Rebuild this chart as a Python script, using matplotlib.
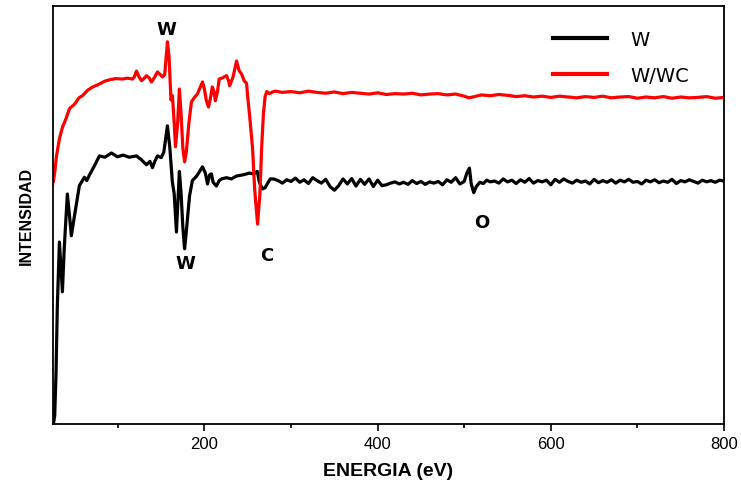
import matplotlib.pyplot as plt
from matplotlib.ticker import MultipleLocator

# W spectrum (black)
w_x = [25.5, 27, 28.5, 30, 32.4, 34, 35.9, 38, 41.6, 44, 46.2, 50, 55.5, 61.3, 64, 67,
       72.8, 78.6, 85, 92.5, 99.4, 106, 113, 121.4, 127, 133, 137, 139.9, 143, 145.7,
       150, 153, 157.2, 160, 162.8, 165, 167.6, 169, 171, 173, 175, 177, 179, 182.7,
       186, 191, 197.7, 201, 203.5, 206, 208, 210, 213.7, 217, 219.6, 225.4, 231, 237,
       245, 252, 257, 261, 263.4, 267, 270, 273, 276,
       280, 285, 290, 295, 300, 305, 310, 315, 320, 325, 330, 335, 340, 345, 350, 355,
       360, 365, 370, 375, 380, 385, 390, 395, 400, 405, 410, 415, 420, 425, 430, 435,
       440, 445, 450, 455, 460, 465, 470, 475, 480, 485, 490, 495, 500, 503, 506, 508,
       511, 514, 518, 522, 526, 530, 535, 540, 545, 550, 555, 560, 565, 570, 575, 580,
       585, 590, 595, 600, 605, 610, 615, 620, 625, 630, 635, 640, 645, 650, 655, 660,
       665, 670, 675, 680, 685, 690, 695, 700, 705, 710, 715, 720, 725, 730, 735, 740,
       745, 750, 755, 760, 765, 770, 775, 780, 785, 790, 795, 800]
w_y = [0, 2, 12, 28, 43.5, 38, 31.6, 42, 55, 50, 45, 50, 57, 59, 58.2, 59.5,
       61.7, 64.1, 63.8, 64.8, 63.9, 64.3, 63.8, 64.1, 63.2, 62.0, 62.8, 61.3, 63, 64.1,
       63.7, 65, 71.3, 66, 58, 55, 45.9, 52, 60.4, 55, 47, 41.9, 46, 54.5,
       58.2, 59.3, 61.5, 60, 57.4, 59.6, 59.8, 57.8, 56.9, 58.2, 58.6, 58.9, 58.6, 59.3,
       59.6, 60, 59.8, 60.4, 57.8, 56.2, 56.5, 57.6, 58.6,
       58.6, 58.2, 57.6, 58.4, 58.0, 58.8, 57.8, 58.4, 57.5, 58.9, 58.2, 57.6, 58.5, 56.8, 55.9, 57.0,
       58.6, 57.4, 58.7, 56.9, 58.5, 57.3, 58.6, 56.8, 58.3, 57.0, 57.2, 57.6, 57.9, 57.4, 57.8, 57.3,
       58.2, 57.5, 58.0, 57.3, 57.9, 57.6, 58.0, 57.2, 58.4, 57.8, 58.9, 57.4, 58.0, 60.0, 61.2, 57.5,
       55.3, 56.8, 57.8, 57.5, 58.3, 57.9, 58.1, 57.6, 58.6, 57.9, 58.3, 57.5, 58.4, 57.8, 58.7, 57.6,
       58.2, 57.9, 58.3, 57.2, 58.5, 57.8, 58.6, 58.0, 57.6, 58.3, 57.8, 58.1, 57.4, 58.5, 57.7, 58.2,
       57.8, 58.4, 57.6, 58.3, 57.9, 58.5, 57.8, 58.0, 57.4, 58.3, 57.9, 58.4, 57.7, 58.1, 57.8, 58.5,
       57.5, 58.2, 57.9, 58.4, 58.0, 57.6, 58.3, 57.9, 58.2, 57.8, 58.3, 58.1]

# W/WC spectrum (red)
wwc_x = [25.5, 27.2, 29, 32.4, 36, 40, 44, 50, 55, 59, 65, 70, 78.6, 85, 90.2, 97,
         105.2, 111, 116.8, 119, 121.4, 124, 127.2, 130, 133, 136, 138.8, 142, 145.7,
         149, 151.5, 154, 157.2, 159, 161.3, 163, 165, 166.5, 169, 171, 173, 175, 177,
         179, 182, 184.9, 188, 191.8, 195, 197.7, 200, 202, 204.6, 207, 209, 211, 212.5,
         215, 217, 221, 225.4, 228, 229, 233, 237, 240, 242.8, 246, 248.6, 250, 252,
         255.5, 258, 261.3, 264, 266, 268, 270, 272, 275, 278.4,
         282, 290, 300, 310, 320, 330, 340, 350, 360, 370, 380, 390, 400, 410, 420, 430,
         440, 450, 460, 470, 480, 490, 500, 505, 510, 520, 530, 540, 550, 560, 570, 580,
         590, 600, 610, 620, 630, 640, 650, 660, 670, 680, 690, 700, 710, 720, 730, 740,
         750, 760, 770, 780, 790, 800]
wwc_y = [58, 60.5, 64, 68.2, 71, 73, 75.4, 76.5, 78, 78.5, 79.8, 80.5, 81.3, 82, 82.3, 82.6,
         82.5, 82.7, 82.5, 83, 84.4, 83.2, 82.1, 82.6, 83.3, 82.8, 81.8, 82.8, 84.2,
         83.5, 83, 83.5, 91.4, 88, 77.5, 78.5, 72, 66.3, 72, 80.1, 74, 66, 62.7,
         65, 72, 77, 78, 78.9, 80.5, 81.8, 80, 77.5, 75.8, 78, 80.6, 79.5, 77.3,
         79.5, 82.5, 82.8, 83.3, 82, 80.9, 83, 86.8, 84.5, 83.7, 82, 81.5, 78, 74,
         66, 56, 47.8, 55, 66, 74, 78.3, 79.5, 79.0, 79.4,
         79.6, 79.3, 79.5, 79.2, 79.6, 79.3, 79.1, 79.4, 79.0, 79.3, 79.1, 78.9, 79.2, 78.8, 79.0, 78.9,
         79.1, 78.7, 78.9, 79.0, 78.7, 78.9, 78.4, 78.0, 78.2, 78.7, 78.5, 78.8, 78.6, 78.3, 78.5, 78.2,
         78.4, 78.1, 78.4, 78.2, 78.0, 78.3, 78.1, 78.4, 78.0, 78.2, 78.3, 77.9, 78.2, 78.0, 78.3, 77.9,
         78.2, 78.0, 78.1, 78.3, 77.9, 78.1]

# peak labels
lab_txt = ["W", "W", "C", "O"]
lab_x = [156, 178, 272, 520]
lab_y = [94.5, 38.5, 40.5, 48.2]

fig = plt.figure(figsize=(7.41, 4.89), dpi=100)
ax = fig.add_axes([0.0715, 0.131, 0.9055, 0.855])

ax.plot(w_x, w_y, color='black', lw=2.3, label='W')
ax.plot(wwc_x, wwc_y, color='red', lw=2.3, label='W/WC')

for t, x, y in zip(lab_txt, lab_x, lab_y):
    ax.text(x, y, t, ha='center', va='center', fontsize=13, fontweight='bold',
            family='DejaVu Sans')

ax.set_xlim(25, 800)
ax.set_ylim(0, 100)
ax.xaxis.set_major_locator(MultipleLocator(200))
ax.xaxis.set_minor_locator(MultipleLocator(100))
ax.tick_params(axis='x', which='major', direction='out', length=5, width=1.2,
               labelsize=12)
ax.tick_params(axis='x', which='minor', direction='out', length=3, width=1.2)
for lbl in ax.get_xticklabels():
    lbl.set_family('Liberation Sans')
ax.set_yticks([])
for s in ax.spines.values():
    s.set_linewidth(1.3)

ax.set_xlabel('ENERGIA (eV)', fontsize=14, fontweight='bold', family='Liberation Sans',
              labelpad=8)
ax.set_ylabel('INTENSIDAD', fontsize=11.5, fontweight='bold', family='Liberation Sans',
              labelpad=14)

leg = ax.legend(loc='upper left', bbox_to_anchor=(0.745, 0.943), frameon=False,
                borderpad=0, borderaxespad=0, handlelength=2.8, handletextpad=1.2,
                labelspacing=0.9, prop={'family': 'DejaVu Sans', 'size': 14})
for h in leg.get_lines():
    h.set_linewidth(3)

fig.savefig('out.png', dpi=100)
